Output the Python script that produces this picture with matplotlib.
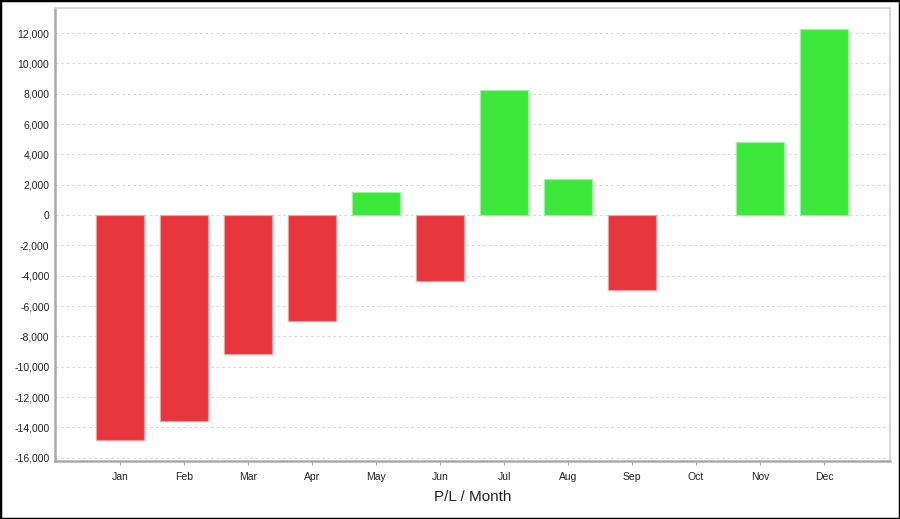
import numpy as np
import matplotlib.pyplot as plt
from matplotlib.patches import Rectangle
from matplotlib.ticker import FuncFormatter

months = ['Jan', 'Feb', 'Mar', 'Apr', 'May', 'Jun', 'Jul', 'Aug', 'Sep', 'Oct', 'Nov', 'Dec']
pl_values = [-14850, -13600, -9170, -7000, 1500, -4330, 8220, 2350, -4970, 0, 4830, 12270]

red = '#e8373c'
green = '#3ce83a'

plt.rcParams['font.family'] = ['Liberation Sans', 'DejaVu Sans']

fig = plt.figure(figsize=(9, 5.19), dpi=100)
ax = fig.add_axes([55 / 900, 1 - 461 / 519, 835 / 900, 453 / 519])

x = np.arange(len(months))
colors = [green if v >= 0 else red for v in pl_values]
# no outline on empty months so nothing shows up at zero
edges = ['none' if v == 0 else ('#9af59a' if v > 0 else '#f5a0a2') for v in pl_values]
ax.bar(x, pl_values, width=0.75, color=colors, edgecolor=edges, linewidth=0.8, zorder=3)

ax.set_xlim(-1.016, 12.03)
ax.set_ylim(-16220, 13650)
ax.set_yticks(np.arange(-16000, 12001, 2000))
ax.yaxis.set_major_formatter(FuncFormatter(lambda v, p: f'{int(v):,}'))
ax.set_xticks(x)
ax.set_xticklabels(months)

ax.grid(axis='y', color='#dadada', linestyle=(0, (2.5, 2.5)), linewidth=0.8, zorder=0)
ax.tick_params(axis='y', length=0, labelsize=7.5, colors='#222222', pad=4)
ax.tick_params(axis='x', length=3, width=0.8, color='#aaaaaa', labelsize=7.5,
               labelcolor='#222222', pad=5)

for side in ['left', 'bottom']:
    ax.spines[side].set_color('#aaaaaa')
    ax.spines[side].set_linewidth(1.8)
for side in ['top', 'right']:
    ax.spines[side].set_color('#d0d0d0')
    ax.spines[side].set_linewidth(1.2)

ax.set_xlabel('P/L / Month', fontsize=11, color='#222222', labelpad=6)

# black frame around the whole picture
fig.patches.append(Rectangle((0, 0), 1, 1, transform=fig.transFigure, fill=False,
                             edgecolor='black', linewidth=2.5))

fig.savefig('out.png', dpi=100)
